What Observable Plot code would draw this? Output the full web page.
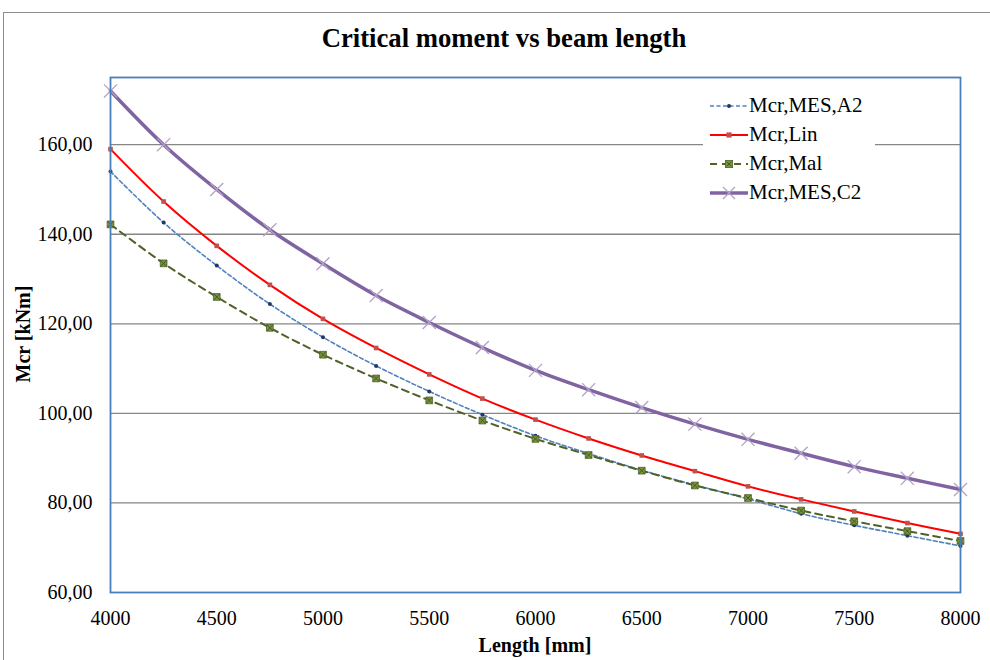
<!DOCTYPE html>
<html><head><meta charset="utf-8">
<script src="https://cdn.jsdelivr.net/npm/d3@7"></script>
<script src="https://cdn.jsdelivr.net/npm/@observablehq/plot@0.6"></script>
<style>
body{margin:0;background:#fff;}
#wrap{position:relative;width:990px;height:660px;overflow:hidden;font-family:"Liberation Serif","Times New Roman",serif;color:#000;}
#border{position:absolute;left:3px;top:12px;width:1100px;height:800px;border-top:1.5px solid #8c8c8c;border-left:1.5px solid #8c8c8c;}
#chart{position:absolute;left:0;top:0;}
#title{position:absolute;left:0;width:1008px;top:38px;text-align:center;font-weight:bold;font-size:26.7px;line-height:30px;transform:translateY(-50%);}
#ylab{position:absolute;left:23px;top:334px;font-weight:bold;font-size:20px;transform:translate(-50%,-50%) rotate(-90deg);white-space:nowrap;}
#xlab{position:absolute;left:535px;top:645px;font-weight:bold;font-size:20px;transform:translate(-50%,-50%);white-space:nowrap;}
#legend{position:absolute;left:703px;top:90px;width:172px;background:#fff;padding:1px 0;}
.lrow{display:flex;align-items:center;height:29px;font-size:21px;line-height:29px;}
.lrow svg{margin-left:6px;margin-right:0px;}
</style></head>
<body>
<div id="wrap">
<div id="border"></div>
<div id="chart"></div>
<div id="title">Critical moment vs beam length</div>
<div id="ylab">Mcr [kNm]</div>
<div id="xlab">Length [mm]</div>
<div id="legend"></div>
</div>
<script>
const lengths = [4000,4250,4500,4750,5000,5250,5500,5750,6000,6250,6500,6750,7000,7250,7500,7750,8000];
const mesA2 = [154.0,142.6,133.0,124.4,117.0,110.6,104.9,99.7,95.0,91.0,87.3,84.0,80.9,77.6,75.0,72.7,70.4];
const lin   = [159.0,147.3,137.4,128.7,121.1,114.6,108.7,103.3,98.6,94.4,90.6,87.1,83.7,80.8,78.1,75.5,73.1];
const mal   = [142.2,133.5,126.0,119.1,113.1,107.8,102.9,98.4,94.3,90.7,87.2,83.9,81.1,78.3,75.9,73.7,71.5];
const mesC2 = [172.0,160.0,150.0,141.0,133.4,126.3,120.3,114.7,109.6,105.3,101.3,97.6,94.2,91.1,88.1,85.5,83.0];
const seriesNames = ["Mcr,MES,A2","Mcr,Lin","Mcr,Mal","Mcr,MES,C2"];
const xTicks = [4000,4500,5000,5500,6000,6500,7000,7500,8000];
const yTicks = [60,80,100,120,140,160];

const seriesValues = [mesA2, lin, mal, mesC2];
const rows = [];
seriesNames.forEach((s,i)=>lengths.forEach((L,j)=>rows.push({series:s, length:L, value:seriesValues[i][j]})));
const of = s => rows.filter(d=>d.series===s);
const fmt = d => d.toFixed(2).replace(".", ",");

const chart = Plot.plot({
  width:990, height:660,
  marginLeft:110, marginRight:30, marginTop:77, marginBottom:68,
  style:{fontFamily:"'Liberation Serif','Times New Roman',serif", fontSize:"20px", color:"#000", background:"transparent", overflow:"visible"},
  x:{domain:[4000,8000]},
  y:{domain:[60,175]},
  marks:[
    Plot.ruleY(yTicks.filter(v=>v>60), {stroke:"#868686", strokeWidth:1.3}),
    Plot.axisX({ticks:xTicks, tickSize:0, tickPadding:18, label:null, fontSize:20, tickFormat:d=>String(d)}),
    Plot.axisY({ticks:yTicks, tickSize:0, tickPadding:18, label:null, fontSize:20, tickFormat:fmt}),
    Plot.line(of(seriesNames[0]), {x:"length", y:"value", stroke:"#4f81bd", strokeWidth:1.6, strokeDasharray:"4,2.5", curve:"catmull-rom"}),
    Plot.dot(of(seriesNames[0]), {x:"length", y:"value", r:2, fill:"#1f3864"}),
    Plot.line(of(seriesNames[1]), {x:"length", y:"value", stroke:"#ff0000", strokeWidth:2, curve:"catmull-rom"}),
    Plot.dot(of(seriesNames[1]), {x:"length", y:"value", symbol:"square", r:2.6, fill:"#c0504d"}),
    Plot.line(of(seriesNames[2]), {x:"length", y:"value", stroke:"#4f6228", strokeWidth:2, strokeDasharray:"7,5", curve:"catmull-rom"}),
    Plot.dot(of(seriesNames[2]), {x:"length", y:"value", symbol:"square", r:3.8, fill:"#77933c", stroke:"#4f6228", strokeWidth:0.8}),
    Plot.dot(of(seriesNames[2]), {x:"length", y:"value", symbol:"times", r:3, stroke:"#3d4d1e", strokeWidth:0.8}),
    Plot.line(of(seriesNames[3]), {x:"length", y:"value", stroke:"#8064a2", strokeWidth:3.5, curve:"catmull-rom"}),
    Plot.dot(of(seriesNames[3]), {x:"length", y:"value", symbol:"times", r:6, stroke:"#b3a2c7", strokeWidth:1.3}),
    Plot.frame({stroke:"#4a7ebb", strokeWidth:1.8})
  ]
});
document.getElementById("chart").appendChild(chart);

// legend
const styles = [
  {stroke:"#4f81bd", w:1.6, dash:"4,2.5", marker:`<circle cx="20" cy="7" r="2" fill="#1f3864"/>`},
  {stroke:"#ff0000", w:2, dash:"", marker:`<rect x="17.4" y="4.4" width="5.2" height="5.2" fill="#c0504d"/>`},
  {stroke:"#4f6228", w:2, dash:"7,5", marker:`<rect x="16.4" y="3.4" width="7.2" height="7.2" fill="#77933c" stroke="#4f6228" stroke-width="0.8"/><path d="M17.8,4.8L22.2,9.2M22.2,4.8L17.8,9.2" stroke="#3d4d1e" stroke-width="0.8"/>`},
  {stroke:"#8064a2", w:3.5, dash:"", marker:`<path d="M14,1L26,13M26,1L14,13" stroke="#b3a2c7" stroke-width="1.3"/>`}
];
const leg = document.getElementById("legend");
seriesNames.forEach((n,i)=>{
  const s = styles[i];
  const row = document.createElement("div");
  row.className = "lrow";
  row.innerHTML = `<svg width="40" height="14"><line x1="1" y1="7" x2="39" y2="7" stroke="${s.stroke}" stroke-width="${s.w}" ${s.dash?`stroke-dasharray="${s.dash}"`:""}/>${s.marker}</svg><span>${n}</span>`;
  leg.appendChild(row);
});
</script>
</body></html>
